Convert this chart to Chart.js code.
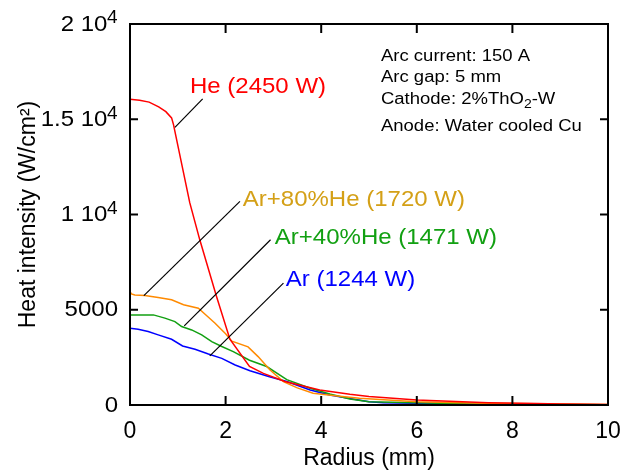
<!DOCTYPE html>
<html>
<head>
<meta charset="utf-8">
<script src="https://cdn.jsdelivr.net/npm/chart.js@4.4.0/dist/chart.umd.min.js"></script>
<style>
  html, body { margin: 0; padding: 0; background: #fff; }
</style>
</head>
<body>
<canvas id="heatChart" width="639" height="474"></canvas>
<script>
// radius (mm) / heat intensity (W/cm2)
var heRadius   = [0, 0.2, 0.4, 0.6, 0.75, 0.87, 0.91, 1.25, 1.46, 1.81, 2.09, 2.5, 2.79, 3.24, 3.97, 4.6, 5.0, 6.0, 7.5, 8.5, 9.0, 10];
var heHeat     = [16050, 16000, 15900, 15650, 15400, 15070, 14720, 10620, 8670, 5700, 3450, 2020, 1660, 1230, 790, 560, 450, 263, 120, 80, 50, 30];

var ar80Radius = [0, 0.03, 0.1, 0.31, 0.59, 0.87, 1.12, 1.43, 1.6, 1.78, 2.0, 2.13, 2.47, 2.68, 2.93, 3.21, 3.5, 3.83, 4.39, 4.8, 6.0, 7.4, 8.5, 10];
var ar80Heat   = [5950, 5830, 5770, 5750, 5640, 5520, 5260, 5080, 4700, 4290, 3740, 3350, 3050, 2540, 1840, 1230, 900, 620, 460, 350, 175, 90, 60, 30];

var ar40Radius = [0, 0.49, 0.73, 0.94, 1.08, 1.29, 1.5, 1.71, 1.92, 2.16, 2.5, 2.86, 3.28, 3.77, 4.18, 4.6, 5.0, 6.0, 7.4, 8.5, 10];
var ar40Heat   = [4730, 4730, 4560, 4380, 4120, 3940, 3680, 3330, 3070, 2800, 2350, 2020, 1330, 880, 580, 320, 175, 120, 40, 20, 10];

var arRadius   = [0, 0.17, 0.38, 0.59, 0.87, 1.1, 1.36, 1.64, 1.92, 2.2, 2.51, 2.9, 3.28, 3.77, 4.18, 4.6, 5.0, 5.3, 6.0, 7.4, 8.5, 10];
var arHeat     = [4030, 3980, 3860, 3680, 3450, 3100, 2930, 2680, 2450, 2100, 1800, 1500, 1230, 790, 530, 340, 175, 120, 90, 40, 20, 10];

// axis ticks
var xTickMarks  = [2, 4, 6, 8];
var yTickValues = [0, 5000, 10000, 15000, 20000];
var yTickBase   = ['0', '5000', '1 10', '1.5 10', '2 10'];
var yTickExp    = ['', '', '4', '4', '4'];

// curve labels and leader lines (data units)
var noteText  = ['He (2450 W)', 'Ar+80%He (1720 W)', 'Ar+40%He (1471 W)', 'Ar (1244 W)'];
var noteColor = ['#ff0000', '#d4a017', '#12a012', '#0000ff'];
var noteX     = [1.255, 2.36, 3.03, 3.26];
var noteY     = [16715, 10775, 8780, 6570];
var leadFromX = [1.52, 2.30, 2.94, 3.21];
var leadFromY = [16070, 10690, 8673, 6397];
var leadToX   = [0.94, 0.29, 1.135, 1.67];
var leadToY   = [14575, 5745, 4152, 2575];

// conditions box
var infoX = 5.25;
var infoY = [18290, 17190, 16030, 14610];

var FONT = '"Liberation Sans", Arial, sans-serif';
var SQUISH = 0.92;

function pairs(xs, ys) {
	var out = [];
	for (var i = 0; i < xs.length; i++) {
		out.push({ x: xs[i], y: ys[i] });
	}
	return out;
}

function squishText(ctx, str, x, y, size, align, color) {
	ctx.save();
	ctx.translate(x, y);
	ctx.scale(1, SQUISH);
	ctx.font = size + 'px ' + FONT;
	ctx.textAlign = align;
	ctx.textBaseline = 'middle';
	ctx.fillStyle = color;
	ctx.fillText(str, 0, 0);
	ctx.restore();
}

function textWidth(ctx, str, size) {
	ctx.font = size + 'px ' + FONT;
	return ctx.measureText(str).width;
}

function segment(ctx, x1, y1, x2, y2) {
	ctx.beginPath();
	ctx.moveTo(x1, y1);
	ctx.lineTo(x2, y2);
	ctx.stroke();
}

var decorPlugin = {
	id: 'decor',
	afterDatasetsDraw: function(chart) {
		var ctx = chart.ctx;
		var a = chart.chartArea;
		var x = chart.scales.x;
		var y = chart.scales.y;
		ctx.save();

		// frame
		ctx.strokeStyle = '#000';
		ctx.lineWidth = 2;
		ctx.strokeRect(a.left, a.top, a.right - a.left, a.bottom - a.top);

		// inward ticks
		xTickMarks.forEach(function(v) {
			var px = x.getPixelForValue(v);
			segment(ctx, px, a.bottom, px, a.bottom - 9);
			segment(ctx, px, a.top, px, a.top + 9);
		});
		yTickValues.forEach(function(v) {
			if (v <= y.min || v >= y.max) return;
			var py = y.getPixelForValue(v);
			segment(ctx, a.left, py, a.left + 8, py);
			segment(ctx, a.right, py, a.right - 8, py);
		});

		// y tick labels with exponent
		var right = a.left - 12.5;
		for (var i = 0; i < yTickValues.length; i++) {
			var py = y.getPixelForValue(yTickValues[i]);
			var ew = 0;
			if (yTickExp[i]) {
				ew = textWidth(ctx, yTickExp[i], 19);
				squishText(ctx, yTickExp[i], right, py - 5.5, 19, 'right', '#000');
			}
			squishText(ctx, yTickBase[i], right - ew + 0.5, py + 0.5, 24, 'right', '#000');
		}

		// leader lines
		ctx.strokeStyle = '#000';
		ctx.lineWidth = 1.2;
		for (var j = 0; j < noteText.length; j++) {
			segment(ctx, x.getPixelForValue(leadFromX[j]), y.getPixelForValue(leadFromY[j]),
				x.getPixelForValue(leadToX[j]), y.getPixelForValue(leadToY[j]));
		}

		// curve labels
		for (var k = 0; k < noteText.length; k++) {
			squishText(ctx, noteText[k], x.getPixelForValue(noteX[k]), y.getPixelForValue(noteY[k]), 24, 'left', noteColor[k]);
		}

		// conditions
		var ix = x.getPixelForValue(infoX);
		squishText(ctx, 'Arc current: 150 A', ix, y.getPixelForValue(infoY[0]), 18.5, 'left', '#000');
		squishText(ctx, 'Arc gap: 5 mm', ix, y.getPixelForValue(infoY[1]), 18.5, 'left', '#000');
		var cy = y.getPixelForValue(infoY[2]);
		var w1 = textWidth(ctx, 'Cathode: 2%ThO', 18.5);
		var w2 = textWidth(ctx, '2', 14);
		squishText(ctx, 'Cathode: 2%ThO', ix, cy, 18.5, 'left', '#000');
		squishText(ctx, '2', ix + w1, cy + 5, 14, 'left', '#000');
		squishText(ctx, '-W', ix + w1 + w2, cy, 18.5, 'left', '#000');
		squishText(ctx, 'Anode: Water cooled Cu', ix, y.getPixelForValue(infoY[3]), 18.5, 'left', '#000');

		ctx.restore();
	}
};

var ctx = document.getElementById('heatChart');

var data = {
	datasets: [
		{ label: 'He (2450 W)', data: pairs(heRadius, heHeat), borderColor: '#ff0000' },
		{ label: 'Ar+80%He (1720 W)', data: pairs(ar80Radius, ar80Heat), borderColor: '#ff8a00' },
		{ label: 'Ar+40%He (1471 W)', data: pairs(ar40Radius, ar40Heat), borderColor: '#12a012' },
		{ label: 'Ar (1244 W)', data: pairs(arRadius, arHeat), borderColor: '#0000ff' }
	]
};

var options = {
	responsive: false,
	animation: false,
	devicePixelRatio: 1,
	layout: { padding: { top: 24, right: 31, left: 0, bottom: 0 } },
	elements: {
		line: { borderWidth: 1.5, tension: 0, fill: false },
		point: { radius: 0, hoverRadius: 0 }
	},
	plugins: {
		legend: { display: false },
		tooltip: { enabled: false }
	},
	scales: {
		x: {
			type: 'linear',
			min: 0,
			max: 10,
			grid: { display: false, drawTicks: false },
			border: { display: false },
			ticks: { stepSize: 2, color: '#000', padding: 13, maxRotation: 0, font: { family: FONT, size: 23 } },
			title: { display: true, text: 'Radius (mm)', color: '#000', padding: { top: 0, bottom: 2 }, font: { family: FONT, size: 23 } },
			afterFit: function(s) { s.height = 69; }
		},
		y: {
			type: 'linear',
			min: 0,
			max: 20000,
			grid: { display: false, drawTicks: false },
			border: { display: false },
			ticks: { stepSize: 5000, display: false },
			title: { display: true, text: 'Heat intensity (W/cm²)', color: '#000', padding: { top: 15, bottom: 0 }, font: { family: FONT, size: 23 } },
			afterFit: function(s) { s.width = 130; }
		}
	}
};

var chart = new Chart(ctx, {
	type: 'line',
	data: data,
	options: options,
	plugins: [decorPlugin]
});
</script>
</body>
</html>
